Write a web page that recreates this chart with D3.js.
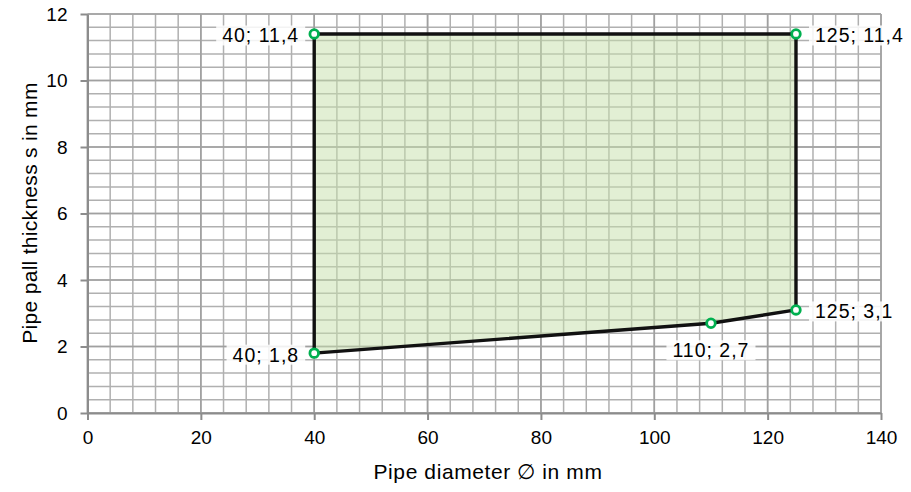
<!DOCTYPE html>
<html><head><meta charset="utf-8">
<script src="https://cdn.jsdelivr.net/npm/d3@7"></script>
<style>body{margin:0;background:#fff;}svg{font-family:"Liberation Sans",Arial,sans-serif;}</style>
</head><body>
<svg id="c" width="911" height="492"></svg>
<script>
const diameters = [40, 40, 125, 125, 110];
const thickness = [1.8, 11.4, 11.4, 3.1, 2.7];
const pointLabels = ["40; 1,8", "40; 11,4", "125; 11,4", "125; 3,1", "110; 2,7"];
const labelPos = ["left", "left", "right", "right", "below"];
const xTicks = [0, 20, 40, 60, 80, 100, 120, 140];
const yTicks = [0, 2, 4, 6, 8, 10, 12];

const svg = d3.select("#c");
const x = d3.scaleLinear().domain([0, 140]).range([87.5, 881]);
const y = d3.scaleLinear().domain([0, 12]).range([413, 14]);

// minor grid
const g = svg.append("g");
g.selectAll(".mx").data(d3.range(0, 140.01, 4)).join("line")
  .attr("x1", d => x(d)).attr("x2", d => x(d)).attr("y1", y(0)).attr("y2", y(12))
  .attr("stroke", "#b0b0b0").attr("stroke-width", 1.5);
g.selectAll(".my").data(d3.range(0, 12.01, 0.4)).join("line")
  .attr("y1", d => y(d)).attr("y2", d => y(d)).attr("x1", x(0)).attr("x2", x(140))
  .attr("stroke", "#b0b0b0").attr("stroke-width", 1.5);
// major grid
g.selectAll(".Mx").data(xTicks).join("line")
  .attr("x1", d => x(d)).attr("x2", d => x(d)).attr("y1", y(0)).attr("y2", y(12))
  .attr("stroke", "#a0a0a0").attr("stroke-width", 1.6);
g.selectAll(".My").data(yTicks).join("line")
  .attr("y1", d => y(d)).attr("y2", d => y(d)).attr("x1", x(0)).attr("x2", x(140))
  .attr("stroke", "#a0a0a0").attr("stroke-width", 1.6);

// axes
const xAxis = svg.append("g").attr("transform", `translate(0,${y(0)})`)
  .call(d3.axisBottom(x).tickValues(xTicks).tickSize(7).tickPadding(11).tickSizeOuter(0));
const yAxis = svg.append("g").attr("transform", `translate(${x(0)},0)`)
  .call(d3.axisLeft(y).tickValues(yTicks).tickSize(7).tickPadding(13).tickSizeOuter(0));
[xAxis, yAxis].forEach(a => {
  a.attr("font-size", 19).attr("font-family", "Liberation Sans, Arial, sans-serif");
  a.select(".domain").attr("stroke", "#8c8c8c").attr("stroke-width", 2);
  a.selectAll(".tick line").attr("stroke", "#8c8c8c").attr("stroke-width", 2);
  a.selectAll("text").attr("fill", "#000");
});

const pts = diameters.map((d, i) => [d, thickness[i]]);
// area
svg.append("path")
  .attr("d", d3.line().x(d => x(d[0])).y(d => y(d[1]))(pts) + "Z")
  .attr("fill", "rgb(197,224,170)").attr("fill-opacity", 0.5)
  .attr("stroke", "#111").attr("stroke-width", 3.4).attr("stroke-linejoin", "round");

// markers
svg.selectAll(".pt").data(pts).join("circle")
  .attr("cx", d => x(d[0])).attr("cy", d => y(d[1])).attr("r", 4.3)
  .attr("fill", "#fff").attr("stroke", "#00b050").attr("stroke-width", 2.8);

// labels
pts.forEach((p, i) => {
  const px = x(p[0]), py = y(p[1]);
  let tx, ty, anchor;
  if (labelPos[i] === "left") { tx = px - 15; ty = py + 1.5; anchor = "end"; }
  else if (labelPos[i] === "right") { tx = px + 19; ty = py + 1.5; anchor = "start"; }
  else { tx = px; ty = py + 27; anchor = "middle"; }
  const lg = svg.append("g");
  const t = lg.append("text").attr("x", tx).attr("y", ty).attr("dy", "0.36em")
    .attr("text-anchor", anchor).attr("font-size", 19.5).attr("letter-spacing", 1)
    .attr("fill", "#000").text(pointLabels[i]);
  const bb = t.node().getBBox();
  lg.insert("rect", "text").attr("x", bb.x - 6).attr("y", bb.y + 1)
    .attr("width", bb.width + 12).attr("height", bb.height - 2)
    .attr("fill", "#fff").attr("fill-opacity", 0.85);
});

// axis titles
svg.append("text").attr("x", 488).attr("y", 479).attr("text-anchor", "middle")
  .attr("font-size", 21).attr("letter-spacing", 0.6).text("Pipe diameter \u2205 in mm");
svg.append("text").attr("transform", "translate(37,213) rotate(-90)").attr("text-anchor", "middle")
  .attr("font-size", 21).attr("letter-spacing", 0.3).text("Pipe pall thickness s in mm");
</script>
</body></html>
